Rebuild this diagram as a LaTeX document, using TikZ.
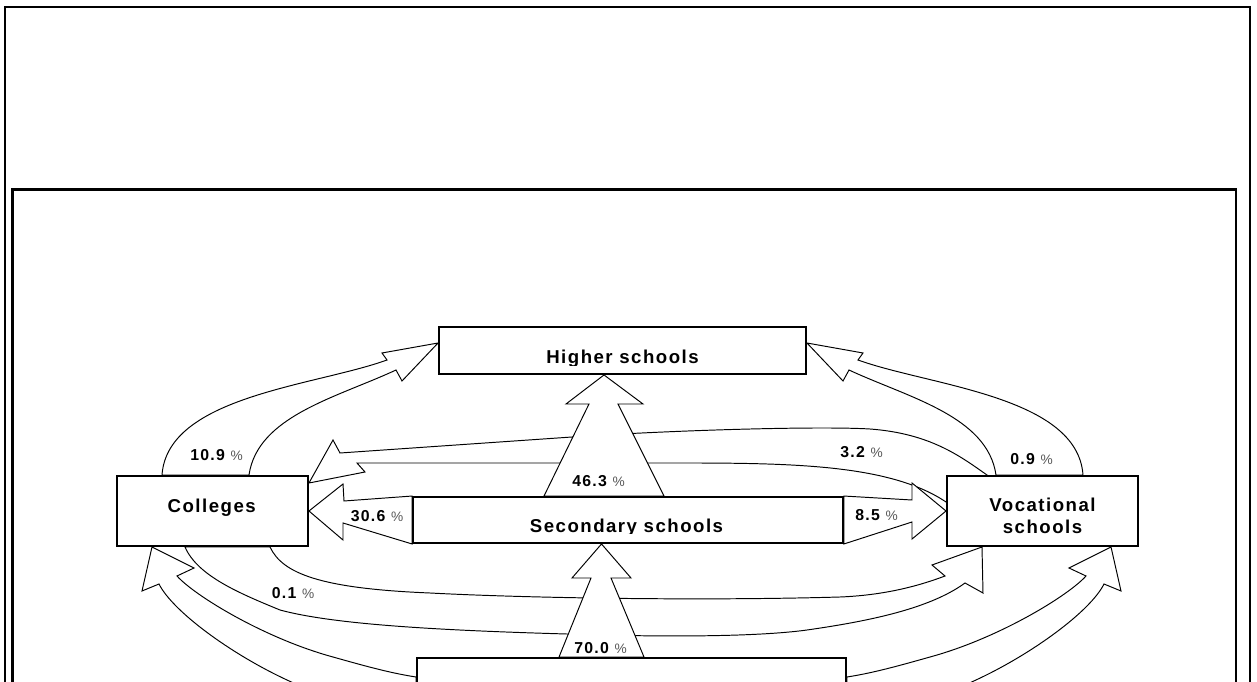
\documentclass[tikz,border=0pt]{standalone}
\usepackage{fontspec}
\newfontfamily\boxfont{Liberation Sans}[LetterSpace=8]
\pgfdeclarelayer{flows}
\pgfsetlayers{flows,main}
\tikzset{
	panel/.style={draw, line width=1.4pt},
	schoolbox/.style={draw, line width=1.1pt, fill=white, inner sep=0pt},
	flowarrow/.style={draw, line width=0.55pt, fill=white},
	boxtitle/.style={font=\boxfont\bfseries\fontsize{10.6}{12.7}\selectfont, inner sep=0pt, anchor=base},
	sharelabel/.style={font=\boxfont\bfseries\fontsize{9}{10}\selectfont, inner sep=0pt, anchor=base west},
}
\newcommand{\pct}{{\mdseries\fontsize{7.8}{9}\selectfont\color{black!65}\%}}

\begin{document}
\begin{tikzpicture}
		% Boxes, flows and shares:
		\useasboundingbox (0,0) rectangle (25.14,13.62);
		\node[schoolbox, minimum width=7.34cm, minimum height=0.94cm] (higher) at (12.45, 6.61){};
		\node[schoolbox, minimum width=8.60cm, minimum height=0.92cm] (secondary) at (12.56, 3.22){};
		\node[schoolbox, minimum width=3.82cm, minimum height=1.40cm] (colleges) at (4.25, 3.40){};
		\node[schoolbox, minimum width=3.82cm, minimum height=1.40cm] (vocational) at (20.85, 3.40){};
		\node[schoolbox, minimum width=8.58cm, minimum height=1.66cm] (primary) at (12.63, -0.37){};
		\begin{scope}
			\clip (higher.north west) rectangle (16.12, 6.31);
			\node[boxtitle] (higherlbl) at (12.45, 6.34){Higher schools};
		\end{scope}
		\begin{scope}
			\clip (secondary.north west) rectangle (16.86, 2.944);
			\node[boxtitle] (secondarylbl) at (12.53, 2.974){Secondary schools};
		\end{scope}
		\node[boxtitle] (collegeslbl) at (4.234, 3.366){Colleges};
		\node[boxtitle] (vocationallbl) at (20.85, 3.386){Vocational};
		\node[boxtitle] (vocationallblb) at (20.85, 2.940){schools};
		\begin{pgfonlayer}{flows}
			\draw[panel] (0.10, -0.5) rectangle (25.00, 13.48);
			\draw[panel, fill=white] (0.25, -0.5) rectangle (24.72, 9.83);
			\draw[flowarrow] ([xshift=-1.01cm]colleges.north) .. controls (3.35, 5.70) and (6.30, 5.90) .. (7.74, 6.42) -- (7.64, 6.56) -- ([yshift=0.15cm]higher.west) -- (8.04, 6.00) -- (7.92, 6.22) .. controls (6.74, 5.67) and (5.15, 5.30) .. ([xshift=0.73cm]colleges.north) -- cycle;
			\draw[flowarrow] ([xshift=0.81cm]vocational.north) .. controls (21.55, 5.70) and (18.60, 5.90) .. (17.16, 6.42) -- (17.26, 6.56) -- ([yshift=0.15cm]higher.east) -- (16.86, 6.00) -- (16.98, 6.22) .. controls (18.16, 5.67) and (19.75, 5.30) .. ([xshift=-0.93cm]vocational.north) -- cycle;
			\draw[flowarrow] ([xshift=-1.11cm]vocational.north) .. controls (19.20, 4.50) and (18.60, 4.95) .. (17.40, 5.04) .. controls (16.40, 5.10) and (13.50, 5.02) .. (11.44, 4.88) -- (6.80, 4.56) -- (6.66, 4.82) -- ([yshift=0.56cm]colleges.east) -- (7.30, 4.18) -- (7.14, 4.36) -- (12.90, 4.36) .. controls (15.50, 4.36) and (17.70, 4.40) .. ([yshift=0.18cm]vocational.west) -- cycle;
			\draw[flowarrow] (secondary.north west) -- (6.88, 3.60) -- (6.86, 3.94) -- (colleges.east) -- (6.86, 2.82) -- (6.86, 3.16) -- (secondary.south west) -- cycle;
			\draw[flowarrow] (secondary.north east) -- (18.24, 3.62) -- (18.24, 3.96) -- (vocational.west) -- (18.24, 2.84) -- (18.24, 3.18) -- (secondary.south east) -- cycle;
			\draw[flowarrow] ([xshift=1.15cm]colleges.south) .. controls (5.65, 2.15) and (6.40, 1.85) .. (8.60, 1.76) .. controls (10.50, 1.66) and (14.00, 1.60) .. (16.80, 1.68) .. controls (17.80, 1.72) and (18.50, 1.95) .. (18.90, 2.10) -- (18.64, 2.32) -- ([xshift=-1.21cm]vocational.south) -- (19.66, 1.76) -- (19.30, 1.96) .. controls (18.60, 1.45) and (17.40, 1.20) .. (16.14, 1.02) .. controls (14.90, 0.85) and (12.50, 0.90) .. (11.34, 0.94) .. controls (8.50, 1.02) and (6.60, 1.15) .. (5.60, 1.42) .. controls (4.80, 1.75) and (3.95, 2.10) .. ([xshift=-0.55cm]colleges.south) -- cycle;
			\draw[flowarrow] ([yshift=-0.48cm]primary.west) .. controls (7.50, -0.70) and (6.60, -0.38) .. (5.74, 0.02) .. controls (4.60, 0.55) and (3.45, 1.40) .. (3.18, 1.94) -- (2.84, 1.80) -- ([xshift=-1.21cm]colleges.south) -- (3.88, 2.26) -- (3.54, 2.10) .. controls (3.90, 1.70) and (5.30, 0.85) .. (6.66, 0.48) .. controls (7.30, 0.30) and (7.80, 0.16) .. ([yshift=0.45cm]primary.west) -- cycle;
			\draw[flowarrow] ([yshift=-0.48cm]primary.east) .. controls (17.76, -0.70) and (18.66, -0.38) .. (19.52, 0.02) .. controls (20.66, 0.55) and (21.81, 1.40) .. (22.08, 1.94) -- (22.42, 1.80) -- ([xshift=1.37cm]vocational.south) -- (21.38, 2.26) -- (21.72, 2.10) .. controls (21.36, 1.70) and (19.96, 0.85) .. (18.60, 0.48) .. controls (17.96, 0.30) and (17.46, 0.16) .. ([yshift=0.45cm]primary.east) -- cycle;
			\draw[flowarrow] ([xshift=-1.68cm]secondary.north) -- (11.78, 5.54) -- (11.32, 5.54) -- ([xshift=-0.37cm]higher.south) -- (12.86, 5.54) -- (12.36, 5.54) -- ([xshift=0.72cm]secondary.north) -- cycle;
			\draw[flowarrow] ([xshift=-1.45cm]primary.north) -- (11.82, 2.06) -- (11.44, 2.06) -- ([xshift=-0.53cm]secondary.south) -- (12.62, 2.06) -- (12.22, 2.06) -- ([xshift=0.25cm]primary.north) -- cycle;
		\end{pgfonlayer}
		\node[sharelabel] (shsechigh) at (11.44, 3.886){46.3 \pct};
		\node[sharelabel] (shprimsec) at (11.48, 0.553){70.0 \pct};
		\node[sharelabel] (shseccol) at (7.01, 3.186){30.6 \pct};
		\node[sharelabel] (shsecvoc) at (17.10, 3.200){8.5 \pct};
		\node[sharelabel] (shcolhigh) at (3.80, 4.406){10.9 \pct};
		\node[sharelabel] (shvoccol) at (16.80, 4.474){3.2 \pct};
		\node[sharelabel] (shvochigh) at (20.20, 4.320){0.9 \pct};
		\node[sharelabel] (shcolvoc) at (5.43, 1.654){0.1 \pct};
	\end{tikzpicture}
\end{document}
